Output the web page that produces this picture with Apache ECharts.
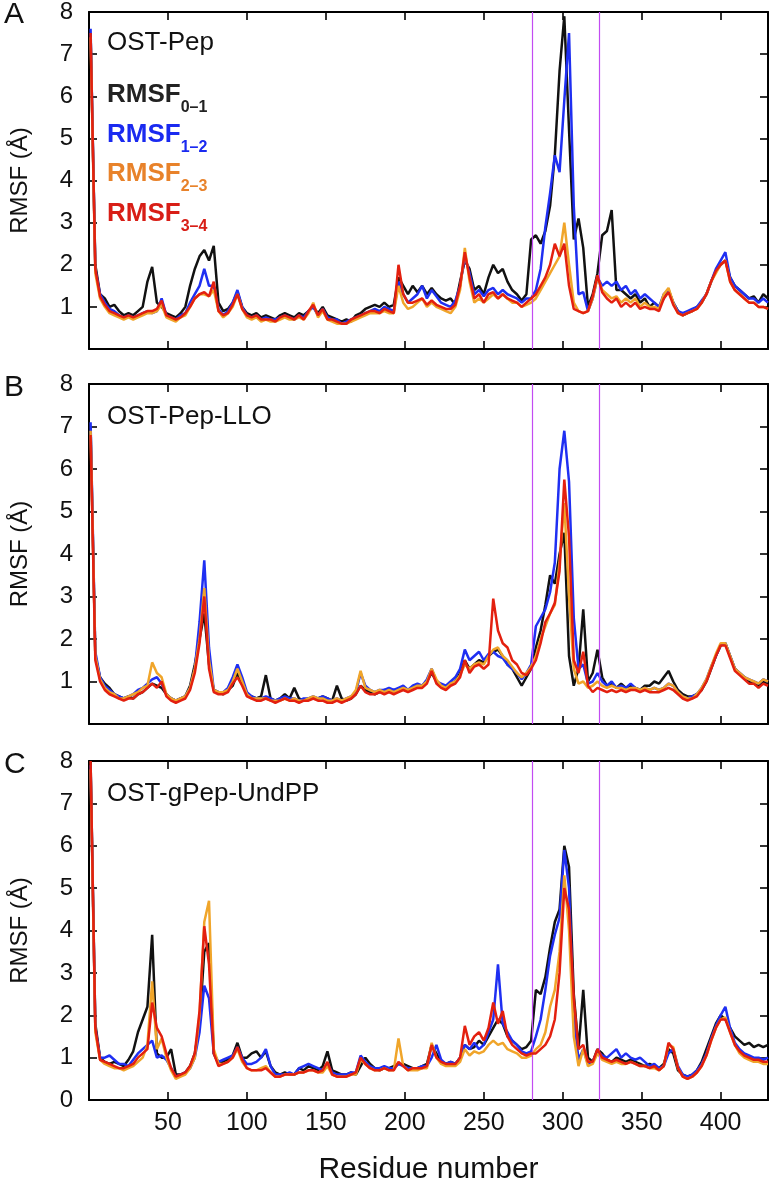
<!DOCTYPE html>
<html><head><meta charset="utf-8">
<script src="https://cdn.jsdelivr.net/npm/echarts@6/dist/echarts.min.js"></script>
<style>html,body{margin:0;padding:0;background:#fff}#c{width:776px;height:1186px}</style>
</head><body><div id="c"></div><script>
const residues = [
1,4,7,10,13,16,19,22,25,28,31,34,
37,40,43,46,49,52,55,58,61,64,67,70,
73,76,79,82,85,88,91,94,97,100,103,106,
109,112,115,118,121,124,127,130,133,136,139,142,
145,148,151,154,157,160,163,166,169,172,175,178,
181,184,187,190,193,196,199,202,205,208,211,214,
217,220,223,226,229,232,235,238,241,244,247,250,
253,256,259,262,265,268,271,274,277,280,283,286,
289,292,295,298,301,304,307,310,313,316,319,322,
325,328,331,334,337,340,343,346,349,352,355,358,
361,364,367,370,373,376,379,382,385,388,391,394,
397,400,403,406,409,412,415,418,421,424,427,430];

// Panel A: OST-Pep
const A_01 = [
7.5,2.0,1.3,1.2,1.0,1.05,0.9,0.8,0.85,0.8,0.9,1.0,
1.6,1.95,1.1,1.0,0.85,0.8,0.75,0.85,1.0,1.5,1.9,2.2,
2.35,2.1,2.45,1.1,0.9,0.95,1.1,1.35,1.0,0.85,0.8,0.85,
0.75,0.8,0.75,0.7,0.8,0.85,0.8,0.75,0.85,0.8,0.9,1.0,
0.85,1.0,0.8,0.75,0.7,0.65,0.7,0.65,0.8,0.85,0.95,1.0,
1.05,1.0,1.1,1.0,1.05,1.7,1.5,1.3,1.5,1.35,1.5,1.3,
1.45,1.3,1.2,1.15,1.2,1.05,1.6,2.1,1.9,1.4,1.5,1.3,
1.7,2.0,1.8,1.9,1.6,1.4,1.3,1.15,1.3,2.6,2.7,2.5,
2.8,3.4,4.6,6.6,7.9,5.2,2.6,3.1,2.4,1.0,1.3,1.8,
2.7,2.8,3.3,1.4,1.4,1.3,1.2,1.3,1.1,1.2,1.0,1.1,
1.0,1.2,1.4,1.1,0.9,0.8,0.85,0.9,1.0,1.1,1.3,1.6,
1.85,2.0,2.1,1.7,1.5,1.4,1.3,1.2,1.25,1.1,1.3,1.2];
const A_12 = [
7.6,1.9,1.3,1.1,0.95,0.9,0.8,0.75,0.8,0.75,0.8,0.85,
0.9,0.85,0.9,1.2,0.8,0.75,0.7,0.8,0.85,1.1,1.3,1.5,
1.9,1.5,1.5,0.95,0.8,0.9,1.1,1.4,1.0,0.8,0.75,0.8,
0.7,0.75,0.7,0.7,0.75,0.8,0.75,0.7,0.8,0.75,0.9,1.0,
0.8,0.95,0.75,0.7,0.7,0.6,0.65,0.7,0.75,0.8,0.85,0.9,
0.95,0.9,1.0,0.95,0.9,1.6,1.3,1.1,1.2,1.3,1.5,1.2,
1.4,1.25,1.1,1.05,1.0,1.15,1.5,2.2,1.8,1.3,1.4,1.25,
1.4,1.45,1.3,1.4,1.3,1.25,1.2,1.1,1.2,1.2,1.4,1.9,
2.9,3.7,4.6,4.2,5.9,7.5,3.4,1.3,1.35,0.9,1.2,1.7,
1.5,1.6,1.5,1.6,1.4,1.5,1.3,1.4,1.2,1.3,1.2,1.1,
1.0,1.3,1.4,1.1,0.9,0.85,0.9,0.95,1.0,1.15,1.3,1.6,
1.9,2.1,2.3,1.7,1.5,1.4,1.3,1.2,1.2,1.1,1.2,1.1];
const A_23 = [
7.4,1.8,1.2,1.0,0.85,0.8,0.75,0.7,0.75,0.7,0.75,0.8,
0.85,0.85,0.9,1.05,0.75,0.7,0.65,0.75,0.8,1.0,1.2,1.3,
1.3,1.25,1.4,0.9,0.75,0.85,1.0,1.3,0.95,0.75,0.7,0.75,
0.65,0.7,0.65,0.65,0.7,0.75,0.7,0.7,0.75,0.7,0.85,1.1,
0.75,0.9,0.7,0.65,0.6,0.6,0.6,0.65,0.7,0.75,0.8,0.85,
0.85,0.85,0.9,0.85,0.85,1.5,1.1,0.95,1.0,1.1,1.2,1.0,
1.1,1.0,0.95,0.9,0.85,1.0,1.4,2.4,1.6,1.1,1.2,1.1,
1.2,1.3,1.2,1.3,1.2,1.1,1.1,1.0,1.05,1.1,1.2,1.4,
1.6,1.8,2.0,2.2,3.0,2.0,1.1,0.9,0.85,0.9,1.2,1.7,
1.4,1.3,1.2,1.25,1.1,1.2,1.1,1.2,1.0,1.1,1.0,1.0,
0.95,1.3,1.45,1.1,0.85,0.8,0.85,0.9,0.95,1.1,1.3,1.6,
1.8,2.0,2.1,1.6,1.4,1.3,1.2,1.1,1.1,1.0,1.0,0.95];
const A_34 = [
7.5,1.9,1.25,1.05,0.9,0.85,0.8,0.75,0.8,0.75,0.8,0.85,
0.9,0.9,0.95,1.15,0.8,0.75,0.7,0.75,0.85,1.0,1.2,1.3,
1.35,1.25,1.6,0.9,0.8,0.85,1.05,1.3,0.95,0.8,0.75,0.8,
0.7,0.7,0.7,0.65,0.75,0.8,0.75,0.7,0.8,0.7,0.9,1.05,
0.8,0.95,0.7,0.7,0.65,0.6,0.6,0.7,0.75,0.8,0.85,0.9,
0.9,0.85,0.95,0.9,0.85,2.0,1.3,1.1,1.1,1.15,1.2,1.05,
1.15,1.05,1.0,0.95,0.95,1.05,1.5,2.3,1.7,1.2,1.3,1.1,
1.3,1.35,1.2,1.3,1.2,1.15,1.1,1.0,1.1,1.2,1.3,1.5,
1.7,2.0,2.5,2.2,2.5,1.5,0.95,0.9,0.85,0.9,1.25,1.75,
1.35,1.2,1.1,1.2,1.0,1.1,1.0,1.1,0.95,1.0,0.95,0.95,
0.9,1.2,1.35,1.05,0.85,0.8,0.85,0.9,0.95,1.1,1.3,1.6,
1.85,2.0,2.1,1.6,1.4,1.3,1.2,1.1,1.1,1.0,1.0,0.95];

// Panel B: OST-Pep-LLO
const B_01 = [
7.0,1.6,1.1,0.95,0.85,0.7,0.65,0.6,0.65,0.6,0.7,0.75,
0.85,0.95,0.9,0.85,0.7,0.6,0.55,0.6,0.65,0.9,1.4,2.0,
2.6,1.4,0.8,0.75,0.7,0.8,0.9,1.2,0.95,0.7,0.65,0.6,
0.65,1.15,0.6,0.55,0.6,0.7,0.6,0.85,0.6,0.55,0.6,0.6,
0.6,0.65,0.6,0.55,0.9,0.6,0.55,0.6,0.7,0.9,0.8,0.75,
0.7,0.75,0.8,0.75,0.8,0.8,0.85,0.8,0.85,0.9,0.9,1.0,
1.2,1.0,0.9,0.85,0.95,1.0,1.2,1.5,1.3,1.4,1.5,1.45,
1.6,1.7,1.75,1.6,1.4,1.3,1.1,0.9,1.1,1.3,1.8,2.2,
2.8,3.5,3.3,4.0,4.5,1.6,0.9,1.3,2.7,1.0,1.2,1.75,
1.1,0.9,0.95,0.85,0.95,0.85,0.9,0.85,0.8,0.9,0.9,1.0,
0.95,1.1,1.25,1.0,0.8,0.7,0.65,0.65,0.7,0.8,1.0,1.3,
1.6,1.85,1.9,1.6,1.3,1.2,1.1,1.0,0.95,0.9,1.0,0.95];
const B_12 = [
7.1,1.7,1.1,0.9,0.8,0.7,0.65,0.6,0.65,0.7,0.8,0.85,
0.95,1.05,1.1,0.95,0.7,0.6,0.55,0.6,0.65,0.85,1.3,2.4,
3.85,1.8,0.8,0.75,0.75,0.85,1.1,1.4,1.1,0.75,0.65,0.6,
0.6,0.65,0.6,0.55,0.6,0.65,0.6,0.6,0.55,0.6,0.6,0.65,
0.6,0.65,0.6,0.55,0.6,0.55,0.6,0.65,0.75,1.2,0.9,0.8,
0.75,0.8,0.8,0.85,0.8,0.85,0.9,0.8,0.9,0.95,0.9,1.05,
1.3,1.0,0.95,0.9,1.0,1.1,1.3,1.75,1.5,1.6,1.7,1.5,
1.65,1.7,1.6,1.55,1.4,1.3,1.2,1.05,1.2,1.4,2.3,2.5,
2.7,3.1,3.8,6.0,6.9,5.7,2.5,1.3,1.4,0.95,1.0,1.2,
1.0,0.9,1.0,0.85,0.9,0.85,0.95,0.85,0.8,0.85,0.8,0.85,
0.8,0.85,0.95,0.9,0.75,0.65,0.6,0.65,0.7,0.85,1.05,1.35,
1.6,1.85,1.9,1.6,1.3,1.2,1.1,1.05,1.0,0.95,1.05,1.0];
const B_23 = [
6.9,1.6,1.05,0.85,0.75,0.7,0.6,0.6,0.65,0.7,0.75,0.85,
0.9,1.45,1.2,1.1,0.7,0.6,0.55,0.6,0.65,0.85,1.3,2.0,
3.2,1.5,0.8,0.75,0.75,0.8,1.0,1.3,1.0,0.7,0.6,0.6,
0.6,0.6,0.55,0.55,0.55,0.6,0.55,0.6,0.55,0.55,0.6,0.65,
0.6,0.6,0.55,0.55,0.6,0.55,0.6,0.65,0.8,1.25,0.85,0.8,
0.75,0.8,0.75,0.8,0.75,0.8,0.85,0.8,0.85,0.9,0.9,1.0,
1.3,1.05,0.9,0.85,0.95,1.0,1.15,1.4,1.3,1.4,1.45,1.4,
1.6,1.75,1.8,1.6,1.5,1.35,1.2,1.1,1.2,1.35,1.6,2.0,
2.3,2.6,2.8,3.8,5.2,3.0,1.3,0.95,1.0,0.85,0.9,1.0,
0.9,0.85,0.9,0.85,0.85,0.8,0.85,0.85,0.8,0.85,0.8,0.85,
0.8,0.85,0.95,0.9,0.75,0.65,0.6,0.6,0.7,0.85,1.05,1.35,
1.65,1.9,1.9,1.6,1.3,1.2,1.1,1.05,1.0,0.95,1.05,1.0];
const B_34 = [
6.8,1.5,1.0,0.8,0.7,0.65,0.6,0.55,0.6,0.6,0.7,0.75,
0.85,0.95,0.85,1.0,0.65,0.55,0.5,0.55,0.6,0.8,1.2,1.9,
3.0,1.3,0.75,0.7,0.7,0.75,0.95,1.1,0.9,0.65,0.6,0.55,
0.55,0.6,0.55,0.5,0.55,0.6,0.55,0.55,0.5,0.55,0.55,0.6,
0.55,0.55,0.5,0.5,0.55,0.5,0.55,0.6,0.7,0.9,0.75,0.7,
0.7,0.75,0.7,0.75,0.7,0.75,0.8,0.75,0.8,0.85,0.85,0.95,
1.25,0.95,0.85,0.8,0.9,0.95,1.1,1.5,1.2,1.35,1.4,1.3,
1.4,2.95,2.2,1.9,1.8,1.5,1.4,1.2,1.15,1.3,1.5,1.9,
2.4,2.6,2.85,3.6,5.75,4.4,1.5,1.2,1.7,0.9,0.75,0.85,
0.8,0.75,0.8,0.75,0.8,0.75,0.8,0.8,0.75,0.8,0.75,0.75,
0.75,0.8,0.85,0.8,0.7,0.6,0.55,0.6,0.65,0.8,1.0,1.3,
1.6,1.85,1.85,1.55,1.25,1.15,1.05,0.95,0.95,0.85,0.95,0.9];

// Panel C: OST-gPep-UndPP
const C_01 = [
8.0,1.8,1.0,0.9,0.85,0.9,0.85,0.8,0.95,1.15,1.6,1.9,
2.2,3.9,1.1,1.0,1.0,1.2,0.6,0.6,0.65,0.8,1.1,1.8,
3.5,3.7,1.1,0.85,0.9,0.95,1.05,1.35,1.0,1.0,1.1,1.15,
1.0,1.15,0.8,0.65,0.6,0.65,0.6,0.6,0.75,0.7,0.8,0.75,
0.7,0.8,1.15,0.7,0.65,0.6,0.6,0.65,0.6,0.8,1.0,0.85,
0.75,0.7,0.75,0.75,0.8,0.85,0.85,0.8,0.75,0.75,0.8,0.85,
1.3,1.1,0.9,0.85,0.9,0.85,1.0,1.3,1.2,1.25,1.4,1.3,
1.5,1.7,1.9,1.8,1.5,1.4,1.3,1.2,1.25,1.4,2.6,2.5,
2.9,3.6,4.2,4.5,6.0,5.5,2.5,1.2,2.6,1.0,0.9,1.2,
1.1,0.95,0.9,1.0,0.95,0.9,0.95,0.9,0.85,0.8,0.85,0.8,
0.75,0.85,1.2,1.1,0.7,0.6,0.55,0.6,0.7,0.9,1.2,1.5,
1.8,2.0,1.9,1.7,1.5,1.4,1.3,1.35,1.25,1.3,1.25,1.3];
const C_12 = [
7.9,1.7,1.0,1.0,1.05,0.95,0.85,0.85,0.8,0.95,1.1,1.2,
1.3,1.4,1.0,1.05,0.95,0.75,0.55,0.6,0.65,0.75,1.0,1.6,
2.7,2.4,1.1,0.9,0.95,1.0,1.05,1.25,1.0,0.85,0.85,0.9,
1.0,1.2,0.8,0.6,0.6,0.6,0.65,0.6,0.75,0.8,0.85,0.8,
0.75,0.7,0.85,0.65,0.6,0.6,0.6,0.65,0.65,1.05,0.9,0.8,
0.75,0.75,0.8,0.75,0.75,0.85,0.8,0.75,0.75,0.75,0.8,0.8,
1.0,1.3,0.95,0.85,0.9,0.85,1.0,1.3,1.2,1.35,1.2,1.3,
1.6,1.9,3.2,1.8,1.6,1.4,1.3,1.15,1.1,1.15,1.5,1.9,
2.6,3.4,3.9,4.3,5.9,5.0,2.0,0.95,1.2,0.85,0.9,1.15,
1.05,1.0,1.1,1.2,1.0,1.1,1.0,0.95,1.0,0.9,0.8,0.85,
0.75,0.8,1.1,1.2,0.8,0.6,0.55,0.6,0.7,0.85,1.1,1.45,
1.75,2.0,2.2,1.7,1.35,1.2,1.1,1.05,1.0,1.0,0.95,1.0];
const C_23 = [
7.8,1.6,0.95,0.85,0.8,0.75,0.75,0.7,0.75,0.8,0.9,1.0,
1.3,2.8,1.2,1.45,1.0,0.7,0.5,0.55,0.6,0.75,1.0,2.0,
4.2,4.7,1.2,0.85,0.85,0.9,1.0,1.2,0.9,0.75,0.7,0.7,
0.75,0.8,0.65,0.55,0.55,0.6,0.6,0.6,0.65,0.65,0.7,0.7,
0.65,0.65,0.8,0.6,0.55,0.55,0.55,0.6,0.6,0.95,0.85,0.75,
0.7,0.7,0.75,0.7,0.7,1.45,0.8,0.7,0.7,0.7,0.75,0.75,
1.35,1.0,0.85,0.8,0.8,0.8,0.9,1.2,1.05,1.15,1.1,1.15,
1.3,1.4,1.3,1.35,1.2,1.15,1.1,1.0,1.0,1.05,1.2,1.3,
1.6,2.2,2.6,3.5,5.3,4.0,1.5,0.8,1.2,0.8,0.85,1.1,
0.95,0.9,0.85,0.9,0.85,0.85,0.9,0.85,0.8,0.8,0.75,0.75,
0.7,0.8,1.3,1.25,0.75,0.55,0.5,0.55,0.65,0.8,1.05,1.4,
1.7,1.9,1.95,1.6,1.3,1.1,1.0,0.95,0.9,0.9,0.85,0.85];
const C_34 = [
8.0,1.7,0.95,0.9,0.85,0.8,0.75,0.75,0.8,0.85,1.0,1.1,
1.2,2.3,1.7,1.5,1.1,0.75,0.55,0.6,0.65,0.8,1.1,2.1,
4.1,3.2,1.1,0.8,0.85,0.9,1.0,1.25,0.95,0.75,0.7,0.7,
0.7,0.75,0.65,0.55,0.55,0.6,0.6,0.6,0.65,0.65,0.7,0.7,
0.65,0.7,0.9,0.6,0.55,0.55,0.55,0.6,0.65,1.0,0.85,0.75,
0.7,0.7,0.75,0.7,0.7,0.9,0.8,0.7,0.75,0.75,0.75,0.8,
1.3,1.0,0.9,0.85,0.85,0.85,1.0,1.75,1.3,1.5,1.6,1.4,
1.7,2.3,1.8,2.1,1.5,1.3,1.2,1.1,1.05,1.1,1.1,1.2,
1.3,1.5,1.9,3.0,5.0,4.5,2.4,1.2,1.3,0.9,0.9,1.2,
1.0,0.95,0.9,0.95,0.9,0.85,0.9,0.85,0.8,0.8,0.75,0.8,
0.7,0.8,1.35,1.2,0.75,0.55,0.5,0.55,0.65,0.8,1.05,1.4,
1.7,1.9,1.9,1.6,1.3,1.15,1.05,1.0,0.95,0.95,0.9,0.9];

const xTickLabels = [50,100,150,200,250,300,350,400];
const yTickLabels = [0,1,2,3,4,5,6,7,8];
const panelLetters = ['A','B','C'];
const panelNames = ['OST-Pep','OST-Pep-LLO','OST-gPep-UndPP'];
const seriesSubs = ['0\u20131','1\u20132','2\u20133','3\u20134'];
const markResidues = [281, 323];
const panelData = [[A_01,A_12,A_23,A_34],[B_01,B_12,B_23,B_34],[C_01,C_12,C_23,C_34]];

const lineColors = ['#111111','#1f2ff2','#f0a52a','#e3200f'];
const legendColors = ['#222222','#1a2af0','#e8822a','#d81e16'];
const FONT = 'Liberation Sans';
const gridPos = [{top:10,height:339},{top:384,height:340},{top:761,height:340}];

const chart = echarts.init(document.getElementById('c'), null, {renderer:'canvas'});
const grid=[], xAxis=[], yAxis=[], series=[], graphic=[];
gridPos.forEach((gp,g)=>{
  grid.push({left:87, right:8, top:gp.top, height:gp.height});
  const xBase = {type:'value', gridIndex:g, min:0, max:430, interval:50,
    axisLine:{show:true,onZero:false,lineStyle:{color:'#000',width:2}},
    axisTick:{show:true,inside:true,length:8,lineStyle:{color:'#000',width:1.6}},
    splitLine:{show:false}};
  xAxis.push(Object.assign({}, xBase, {position:'bottom',
    axisLabel:{show:g===2, margin:11, fontSize:25, color:'#111', fontFamily:FONT,
      formatter:v=> xTickLabels.indexOf(v)>=0 ? String(v) : ''},
    name: g===2 ? 'Residue number' : '', nameLocation:'middle', nameGap:55,
    nameTextStyle:{fontSize:30, color:'#111', fontFamily:FONT}}));
  xAxis.push(Object.assign({}, xBase, {position:'top', axisLabel:{show:false}}));
  const yBase = {type:'value', gridIndex:g, min:0, max:8, interval:1,
    axisLine:{show:true,onZero:false,lineStyle:{color:'#000',width:2}},
    axisTick:{show:true,inside:true,length:8,lineStyle:{color:'#000',width:1.6}},
    splitLine:{show:false}};
  yAxis.push(Object.assign({}, yBase, {position:'left',
    axisLabel:{show:true, margin:16, fontSize:24, color:'#111', fontFamily:FONT,
      formatter:v=> (g<2 && v===0) ? '' : (yTickLabels.indexOf(v)>=0 ? String(v) : '')},
    name:'RMSF (\u00c5)', nameLocation:'middle', nameGap:57, nameRotate:90,
    nameTextStyle:{fontSize:24, color:'#111', fontFamily:FONT}}));
  yAxis.push(Object.assign({}, yBase, {position:'right', axisLabel:{show:false}}));
  panelData[g].forEach((arr,k)=>{
    const s = {type:'line', xAxisIndex:2*g, yAxisIndex:2*g, showSymbol:false, symbol:'none',
      data: residues.map((x,i)=>[x, arr[i]]),
      lineStyle:{color:lineColors[k], width:2.5}, itemStyle:{color:lineColors[k]},
      z: 2+k, silent:true};
    if(k===0){
      s.markLine = {silent:true, symbol:['none','none'], label:{show:false},
        lineStyle:{color:'#c24cf2', width:1.2, type:'solid'},
        data: markResidues.map(r=>({xAxis:r}))};
    }
    series.push(s);
  });
  graphic.push({type:'text', left:4, top:Math.max(0, gp.top-11),
    style:{text:panelLetters[g], fontSize:30, fill:'#111', fontFamily:FONT}});
  graphic.push({type:'text', left:107, top:gp.top+20,
    style:{text:panelNames[g], fontSize:26, fill:'#111', fontFamily:FONT}});
});
seriesSubs.forEach((sub,k)=>{
  graphic.push({type:'text', left:107, top:82+k*39.5,
    style:{text:'{m|RMSF}{s|'+sub+'}', fill:legendColors[k],
      rich:{m:{fontSize:26,fontWeight:'bold',fontFamily:FONT,fill:legendColors[k],lineHeight:34,verticalAlign:'top'},
            s:{fontSize:16,fontWeight:'bold',fontFamily:FONT,fill:legendColors[k],lineHeight:34,verticalAlign:'bottom'}}}});
});

chart.setOption({animation:false, backgroundColor:'#fff', grid, xAxis, yAxis, series, graphic});
</script></body></html>
